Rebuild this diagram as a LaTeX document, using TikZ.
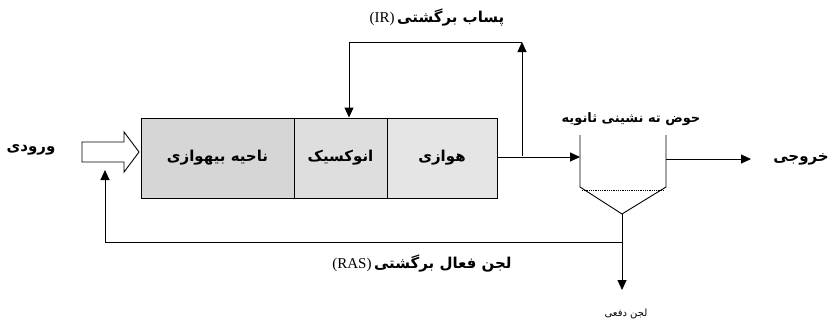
\documentclass[tikz,border=0pt]{standalone}
\usepackage{fontspec}
\usetikzlibrary{arrows.meta}
\TeXXeTstate=1
\newfontfamily\fa[Script=Arabic]{DejaVu Sans}
\newfontfamily\lat{Liberation Serif}
\newcommand{\fat}[1]{{\fa\bfseries\beginR #1\endR}}
\begin{document}
\begin{tikzpicture}[x=1pt,y=-1pt,
  tip/.style={-{Triangle[length=10pt,width=9pt]}},
  wire/.style={line width=0.9pt},
  zone/.style={draw, line width=0.9pt, minimum height=80pt, inner sep=0pt, font=\fontsize{15}{17}\selectfont},
  lbl/.style={inner sep=0pt, font=\fontsize{15}{17}\selectfont}]
\useasboundingbox (0,0) rectangle (829,324);
% zones
\node[zone, fill=black!16, minimum width=153pt] (ana) at (217.5,158) {\fat{ناحیه بیهوازی}};
\node[zone, fill=black!13, minimum width=93pt] (anox) at (340.5,158) {\fat{انوکسیک}};
\node[zone, fill=black!10, minimum width=110pt] (aer) at (442,158) {\fat{هوازی}};
% inlet arrow
\draw[line width=0.9pt] (82,142) -- (124,142) -- (124,132) -- (139,152) -- (124,172) -- (124,162) -- (82,162) -- cycle;
\coordinate (inB) at (105,170);
\node[lbl] (inl) at (31,150) {\fat{ورودی}};
% IR
\coordinate (irA) at (522,156);
\coordinate (irB) at (522,42);
\coordinate (irC) at (349,42);
\draw[wire, tip] (irA) -- (irB);
\draw[wire, tip] (irB) -- (irC) -- (irC |- anox.north);
\node[lbl] (irl) at (437,18) {{\lat\fontsize{15}{17}\selectfont (IR)}\,\fat{پساب برگشتی}};
% clarifier
\coordinate (cl1) at (580,135);
\coordinate (cl2) at (580,187);
\coordinate (cap) at (622,214);
\coordinate (cr2) at (666,187);
\coordinate (cr1) at (666,135);
\draw[wire] (cl1) -- (cl2) -- (cap) -- (cr2) -- (cr1);
\draw[densely dotted, line width=0.8pt] (582,190) -- (664,190);
\node[lbl, font=\fontsize{13}{15}\selectfont] (cll) at (631,119) {\fat{حوض ته نشینی ثانویه}};
\draw[wire, tip] (aer.east |- 0,157) -- (580,157);
% outlet
\coordinate (outE) at (751,159);
\draw[wire, tip] (666,159) -- (outE);
\node[lbl] (outl) at (801,159) {\fat{خروجی}};
% waste + RAS
\coordinate (ras) at (622,242);
\coordinate (wst) at (622,290);
\draw[wire, tip] (cap) -- (wst);
\draw[wire, tip] (ras) -- (105,242) -- (inB);
\node[lbl] (rasl) at (422,264) {{\lat\fontsize{15}{17}\selectfont (RAS)}\,\fat{لجن فعال برگشتی}};
\node[lbl, font=\fontsize{10}{12}\selectfont] (wstl) at (626,314) {{\fa\beginR لجن دفعی\endR}};
\end{tikzpicture}
\end{document}
